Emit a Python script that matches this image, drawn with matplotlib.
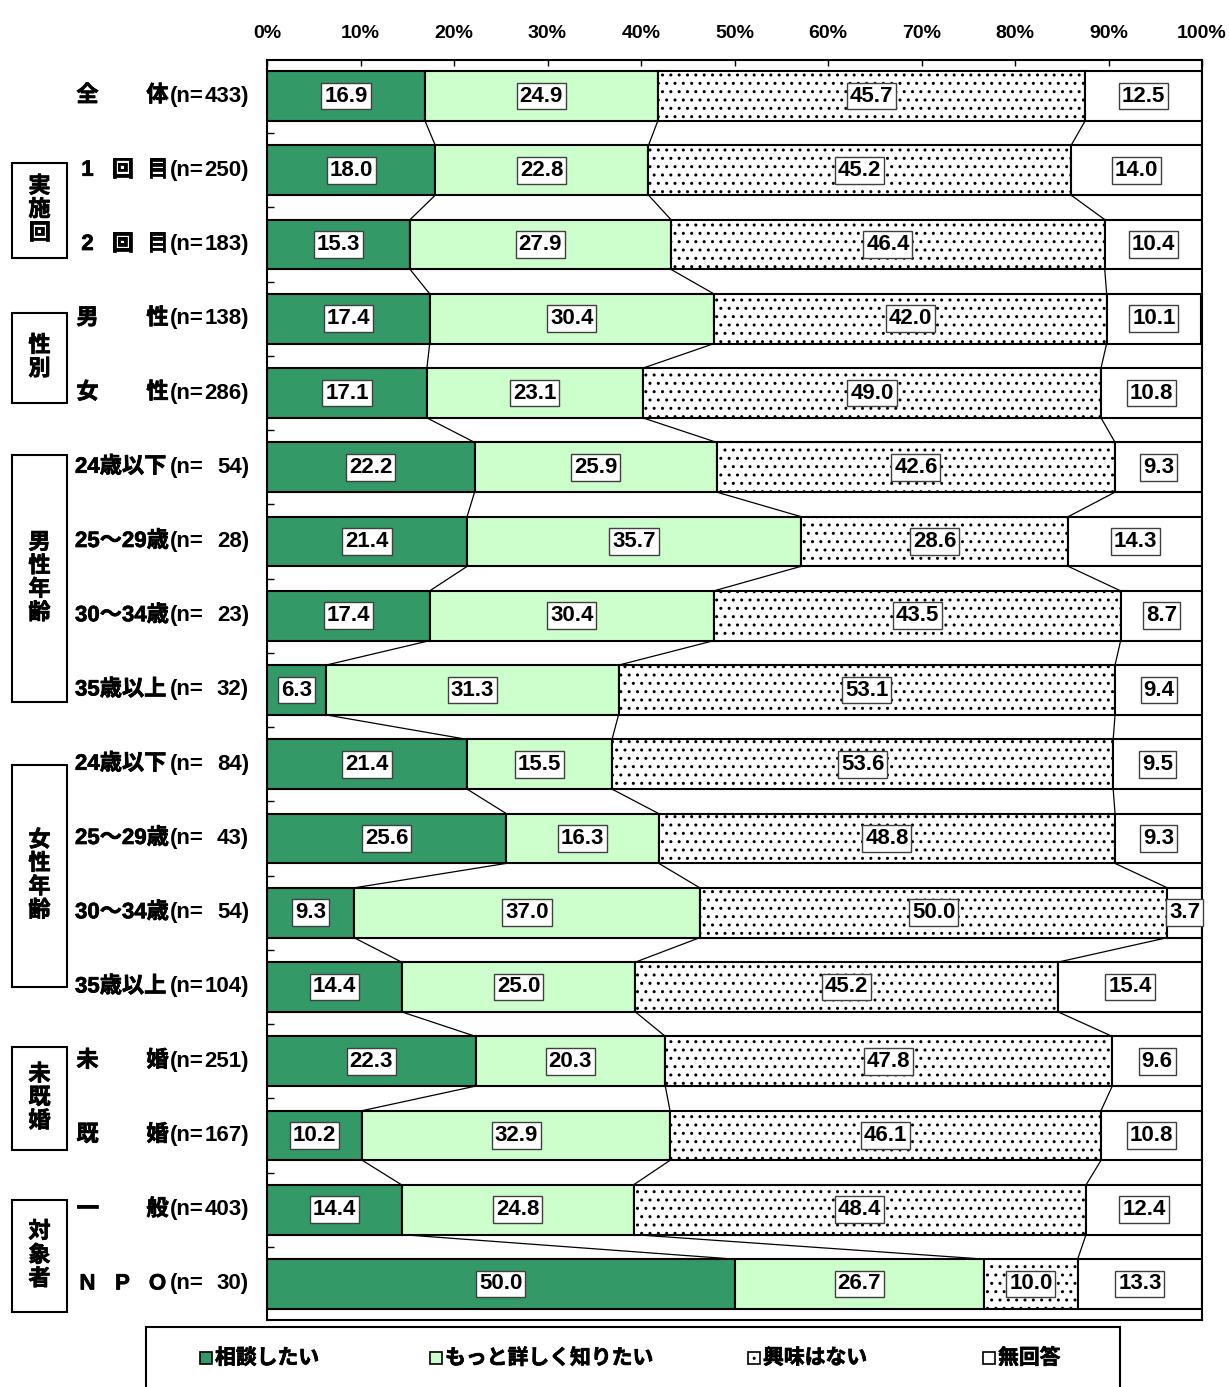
"""
相談意向 - 属性別の積み上げ横棒グラフ
"""
import matplotlib
matplotlib.use('Agg')
import matplotlib.pyplot as plt
import matplotlib.transforms as mtransforms
import matplotlib.patheffects as pe
from matplotlib.patches import Rectangle
import numpy as np

plt.rcParams['font.family'] = ['Liberation Sans', 'Noto Sans CJK JP']
plt.rcParams['font.weight'] = 'bold'
plt.rcParams['hatch.linewidth'] = 1.0

# ── データ ──────────────────────────────────────────
row_names = ["全体", "1回目", "2回目", "男性", "女性",
             "24歳以下", "25～29歳", "30～34歳", "35歳以上",
             "24歳以下", "25～29歳", "30～34歳", "35歳以上",
             "未婚", "既婚", "一般", "NPO"]
row_n = [433, 250, 183, 138, 286, 54, 28, 23, 32, 84, 43, 54, 104, 251, 167, 403, 30]

soudan = [16.9, 18.0, 15.3, 17.4, 17.1, 22.2, 21.4, 17.4, 6.3,
          21.4, 25.6, 9.3, 14.4, 22.3, 10.2, 14.4, 50.0]
kuwashiku = [24.9, 22.8, 27.9, 30.4, 23.1, 25.9, 35.7, 30.4, 31.3,
             15.5, 16.3, 37.0, 25.0, 20.3, 32.9, 24.8, 26.7]
kyoumi_nashi = [45.7, 45.2, 46.4, 42.0, 49.0, 42.6, 28.6, 43.5, 53.1,
                53.6, 48.8, 50.0, 45.2, 47.8, 46.1, 48.4, 10.0]
mukaitou = [12.5, 14.0, 10.4, 10.1, 10.8, 9.3, 14.3, 8.7, 9.4,
            9.5, 9.3, 3.7, 15.4, 9.6, 10.8, 12.4, 13.3]

series_labels = ["相談したい", "もっと詳しく知りたい", "興味はない", "無回答"]
x_ticks = [0, 10, 20, 30, 40, 50, 60, 70, 80, 90, 100]

groups = ["実施回", "性別", "男性年齢", "女性年齢", "未既婚", "対象者"]

# ── レイアウト ──────────────────────────────────────
W, H = 1229, 1387
fig = plt.figure(figsize=(W / 100, H / 100), dpi=100)
ax = fig.add_axes([267 / W, 1 - 1320 / H, 935 / W, 1260 / H])

# 日本語フォントを太字っぽくする
BOLD = [pe.withStroke(linewidth=0.5, foreground='black')]


def fx(px):
    return px / W


def fy(py):
    return 1 - py / H


colors = ['#339966', '#CCFFCC', 'white', 'white']
hatches = [None, None, '..', None]
series = [soudan, kuwashiku, kyoumi_nashi, mukaitou]

n_rows = len(row_names)
y = np.arange(n_rows)
bar_h = 0.67
left = np.zeros(n_rows)
cums = []
for vals, col, hat in zip(series, colors, hatches):
    vals = np.array(vals)
    ax.barh(y, vals, left=left, height=bar_h, color=col, edgecolor='black',
            linewidth=1.5, hatch=hat, zorder=2)
    for yi, l, v in zip(y, left, vals):
        ax.text(l + v / 2, yi, f"{v:.1f}", ha='center', va='center',
                fontsize=16, zorder=4,
                bbox=dict(boxstyle='square,pad=0.13', fc='white', ec='#404040', lw=1))
    left = left + vals
    cums.append(left.copy())

# 棒の間をつなぐ線
for cum in cums[:3]:
    for i in range(n_rows - 1):
        ax.plot([cum[i], cum[i + 1]], [i + bar_h / 2, i + 1 - bar_h / 2],
                color='black', lw=0.9, zorder=1)

ax.set_xlim(0, 100)
ax.set_ylim(n_rows - 0.515, -0.485)
ax.xaxis.tick_top()
ax.set_xticks(x_ticks)
ax.set_xticklabels([f"{t}%" for t in x_ticks], fontsize=14)
ax.tick_params(axis='x', direction='in', length=4, width=1, pad=13)
ax.set_yticks([])
ax.set_yticks(np.arange(n_rows - 1) + 0.5, minor=True)
ax.tick_params(axis='y', which='minor', direction='in', length=5, width=1)
for s in ax.spines.values():
    s.set_linewidth(1.5)

# 行ラベル
trans = mtransforms.blended_transform_factory(fig.transFigure, ax.transData)
for i, (name, n) in enumerate(zip(row_names, row_n)):
    if len(name) <= 3:
        xs = np.linspace(87.5, 157.5, len(name))
        for ch, xc in zip(name, xs):
            fig.text(fx(xc), i, ch, transform=trans, ha='center', va='center',
                     fontsize=16, path_effects=BOLD)
    else:
        fig.text(fx(75), i, name, transform=trans, ha='left', va='center',
                 fontsize=16, path_effects=BOLD)
    fig.text(fx(170), i, "(n=", transform=trans, ha='left', va='center', fontsize=16)
    fig.text(fx(249), i, f"{n})", transform=trans, ha='right', va='center', fontsize=16)

# グループの枠
group_boxes = [(163, 258), (313, 403), (455, 702), (765, 987), (1047, 1150), (1200, 1312)]
for name, (y0, y1) in zip(groups, group_boxes):
    fig.patches.append(Rectangle((fx(12), fy(y1)), fx(67) - fx(12), fy(y0) - fy(y1),
                                 transform=fig.transFigure, fill=False,
                                 ec='black', lw=1.5))
    fig.text(fx(39.5), fy((y0 + y1) / 2), "\n".join(name), ha='center', va='center',
             fontsize=16, linespacing=1.15, path_effects=BOLD)

# 凡例
fig.patches.append(Rectangle((fx(146), fy(1400)), fx(1120) - fx(146), fy(1327) - fy(1400),
                             transform=fig.transFigure, fill=False, ec='black', lw=1.5))
legend_x = [200, 430, 748, 983]
msize = 12
for lx, lab, col, hat in zip(legend_x, series_labels, colors, hatches):
    fig.patches.append(Rectangle((fx(lx), fy(1358 + msize / 2)), msize / W, msize / H,
                                 transform=fig.transFigure, fc=col, ec='black',
                                 lw=1.2, hatch=hat))
    fig.text(fx(lx + msize + 3), fy(1358), lab, ha='left', va='center',
             fontsize=15, path_effects=BOLD)

fig.savefig('out.png', dpi=100)
